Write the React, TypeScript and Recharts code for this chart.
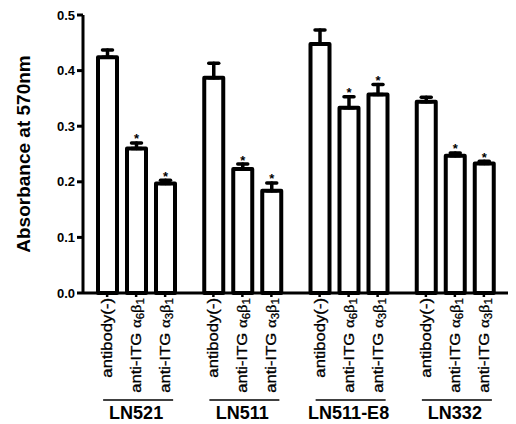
import { BarChart, Bar, XAxis, YAxis, ErrorBar } from "recharts";

const groups = ["LN521", "LN511", "LN511-E8", "LN332"];
const noAntibody = [0.424, 0.387, 0.448, 0.344];
const noAntibodyErr = [0.013, 0.026, 0.025, 0.008];
const antiA6B1 = [0.26, 0.223, 0.333, 0.247];
const antiA6B1Err = [0.01, 0.009, 0.02, 0.005];
const antiA3B1 = [0.197, 0.184, 0.357, 0.233];
const antiA3B1Err = [0.006, 0.014, 0.018, 0.004];
const yTicks = [0, 0.1, 0.2, 0.3, 0.4, 0.5];

const FONT = "'Liberation Sans', Arial, Helvetica, sans-serif";
const BAR_SIZE = 19;
const BAR_GAP = 10;

const data = groups.map((g, i) => ({
  group: g,
  noAb: noAntibody[i],
  noAbErr: [0, noAntibodyErr[i]],
  a6: antiA6B1[i],
  a6Err: [0, antiA6B1Err[i]],
  a3: antiA3B1[i],
  a3Err: [0, antiA3B1Err[i]],
}));

const series = [
  { key: "noAb", errKey: "noAbErr", starred: false },
  { key: "a6", errKey: "a6Err", starred: true },
  { key: "a3", errKey: "a3Err", starred: true },
];

const makeShape = (key: string, errKey: string, starred: boolean) => (props: any) => {
  const { x, y, width, height, payload } = props;
  const v = payload[key];
  const ppu = height / v;
  const capY = y - payload[errKey][1] * ppu;
  return (
    <g>
      <rect
        x={x}
        y={y}
        width={width}
        height={height}
        fill="#fff"
        stroke="#000"
        strokeWidth={4}
        strokeLinejoin="round"
      />
      {starred && (
        <text
          x={x + width / 2}
          y={capY + 0.5}
          textAnchor="middle"
          fontSize={13}
          fontWeight="bold"
          fontFamily={FONT}
          fill="#000"
        >
          *
        </text>
      )}
    </g>
  );
};

const BarLabel = ({ idx }: { idx: number }) => {
  if (idx === 0) return <>antibody(-)</>;
  const sub = idx === 1 ? "6" : "3";
  return (
    <>
      anti-ITG{" "}
      <tspan fontFamily="'Liberation Serif', serif">α</tspan>
      <tspan fontSize={10} dy={3}>
        {sub}
      </tspan>
      <tspan fontFamily="'Liberation Serif', serif" dy={-3}>
        β
      </tspan>
      <tspan fontSize={10} dy={3}>
        1
      </tspan>
    </>
  );
};

const GroupTick = (props: any) => {
  const { x, y, payload } = props;
  const step = BAR_SIZE + BAR_GAP;
  return (
    <g>
      {series.map((s, i) => {
        const cx = x + (i - 1) * step;
        return (
          <g key={s.key}>
            <line x1={cx} x2={cx} y1={y} y2={y + 4} stroke="#000" strokeWidth={2.5} />
            <text
              transform={`translate(${cx + 5},${y + 5}) rotate(-90) scale(1.15,1)`}
              textAnchor="end"
              fontSize={14.5}
              fontFamily={FONT}
              fill="#000"
              stroke="#000"
              strokeWidth={0.3}
            >
              <BarLabel idx={i} />
            </text>
          </g>
        );
      })}
      <line
        x1={x - step - 4}
        x2={x + step + 8}
        y1={y + 107}
        y2={y + 107}
        stroke="#000"
        strokeWidth={1.5}
      />
      <text
        x={x}
        y={y + 126}
        textAnchor="middle"
        fontSize={18}
        fontWeight="bold"
        fontFamily={FONT}
        fill="#000"
      >
        {payload.value}
      </text>
    </g>
  );
};

export default function App() {
  return (
    <div style={{ position: "absolute", left: 0, top: 0, background: "#fff" }}>
      <BarChart
        width={516}
        height={424}
        data={data}
        margin={{ top: 15, right: 8, left: 0, bottom: 0 }}
        barGap={BAR_GAP}
      >
        <XAxis
          dataKey="group"
          height={131}
          axisLine={{ stroke: "#000", strokeWidth: 3 }}
          tickLine={false}
          tickSize={0}
          tickMargin={0}
          tick={<GroupTick />}
          interval={0}
        />
        <YAxis
          width={83}
          domain={[0, 0.5]}
          ticks={yTicks}
          tickFormatter={(v: number) => v.toFixed(1)}
          axisLine={{ stroke: "#000", strokeWidth: 3 }}
          tickLine={{ stroke: "#000", strokeWidth: 3 }}
          tickSize={6}
          tickMargin={2}
          tick={{ fill: "#000", fontSize: 13, fontWeight: "bold", fontFamily: FONT }}
          label={{
            value: "Absorbance at 570nm",
            angle: -90,
            position: "insideLeft",
            dx: 18,
            style: {
              fontSize: 19,
              fontWeight: "bold",
              fontFamily: FONT,
              fill: "#000",
              textAnchor: "middle",
            },
          }}
        />
        {series.map((s) => (
          <Bar
            key={s.key}
            dataKey={s.key}
            barSize={BAR_SIZE}
            shape={makeShape(s.key, s.errKey, s.starred)}
            isAnimationActive={false}
          >
            <ErrorBar
              dataKey={s.errKey}
              width={5}
              stroke="#000"
              strokeWidth={3.5}
              strokeLinecap="round"
            />
          </Bar>
        ))}
      </BarChart>
    </div>
  );
}
